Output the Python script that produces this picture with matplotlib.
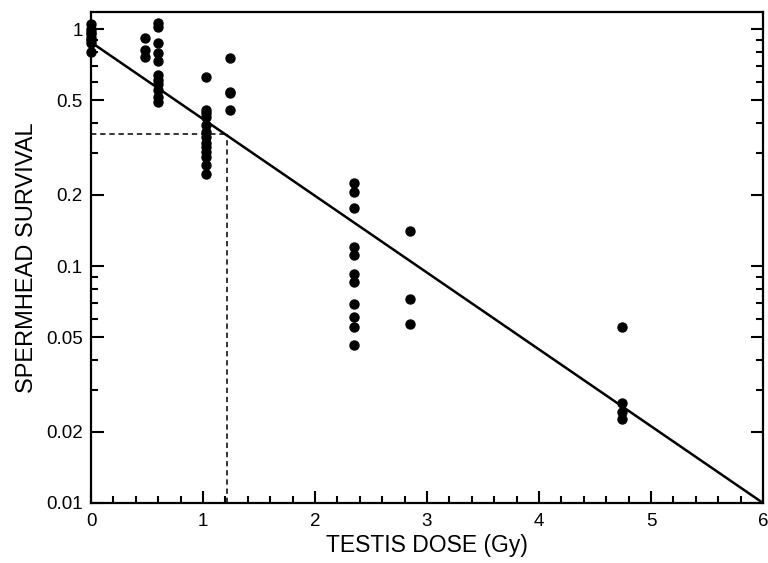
import matplotlib
matplotlib.use('Agg')
import matplotlib.pyplot as plt
from matplotlib.ticker import FixedLocator, FixedFormatter, MultipleLocator, LogLocator, NullFormatter

plt.rcParams['font.family'] = ['Liberation Sans', 'DejaVu Sans']

# dati
dose_0 = [0.0] * 8
surv_0 = [1.05, 1.0, 0.97, 0.95, 0.92, 0.9, 0.87, 0.8]
dose_05 = [0.48] * 3
surv_05 = [0.917, 0.815, 0.762]
dose_06 = [0.6] * 11
surv_06 = [1.064, 1.023, 0.87, 0.794, 0.735, 0.64, 0.609, 0.586, 0.553, 0.515, 0.493]
dose_103 = [1.03] * 13
surv_103 = [0.629, 0.455, 0.441, 0.424, 0.394, 0.369, 0.351, 0.329, 0.317, 0.304, 0.289, 0.267, 0.244]
dose_125 = [1.24] * 4
surv_125 = [0.752, 0.544, 0.535, 0.455]
dose_235 = [2.35] * 11
surv_235 = [0.2246, 0.2046, 0.1752, 0.1206, 0.1113, 0.0925, 0.0858, 0.0689, 0.0607, 0.0554, 0.0464]
dose_285 = [2.85] * 3
surv_285 = [0.1405, 0.0726, 0.0568]
dose_472 = [4.74] * 4
surv_472 = [0.0551, 0.0265, 0.0243, 0.0226]

dose = dose_0 + dose_05 + dose_06 + dose_103 + dose_125 + dose_235 + dose_285 + dose_472
surv = surv_0 + surv_05 + surv_06 + surv_103 + surv_125 + surv_235 + surv_285 + surv_472

# retta di regressione
fit_x = [0, 6]
fit_y = [0.88, 0.01]

# D37
d37_x = 1.21
d37_y = 0.36

yticks = [0.01, 0.02, 0.05, 0.1, 0.2, 0.5, 1]
ylabels = ['0.01', '0.02', '0.05', '0.1', '0.2', '0.5', '1']

fig = plt.figure(figsize=(7.68, 5.63), dpi=100)
ax = fig.add_axes([0.1185, 0.1066, 0.875, 0.872])

ax.scatter(dose, surv, s=42, color='black', zorder=3, clip_on=False)
ax.plot(fit_x, fit_y, color='black', lw=1.8)
ax.plot([0, d37_x], [d37_y, d37_y], color='black', lw=1.1, ls=(0, (3.5, 2.5)))
ax.plot([d37_x, d37_x], [0.01, d37_y], color='black', lw=1.1, ls=(0, (3.5, 2.5)))

ax.set_yscale('log')
ax.set_xlim(0, 6)
ax.set_ylim(0.01, 1.18)

ax.yaxis.set_major_locator(FixedLocator(yticks))
ax.yaxis.set_major_formatter(FixedFormatter(ylabels))
ax.yaxis.set_minor_locator(LogLocator(base=10, subs=[3, 4, 6, 7, 8, 9]))
ax.yaxis.set_minor_formatter(NullFormatter())
ax.xaxis.set_major_locator(MultipleLocator(1))
ax.xaxis.set_minor_locator(MultipleLocator(0.2))

ax.tick_params(which='both', direction='in', top=False, right=True, width=1.5, labelsize=13.5)
ax.tick_params(which='major', length=9)
ax.tick_params(which='minor', length=5)
ax.tick_params(axis='x', pad=7)
ax.tick_params(axis='y', pad=6)

for s in ax.spines.values():
    s.set_linewidth(1.6)

ax.set_xlabel('TESTIS DOSE (Gy)', fontsize=16.5, labelpad=3)
ax.set_ylabel('SPERMHEAD SURVIVAL', fontsize=17, labelpad=6)

fig.savefig('out.png', dpi=100)
